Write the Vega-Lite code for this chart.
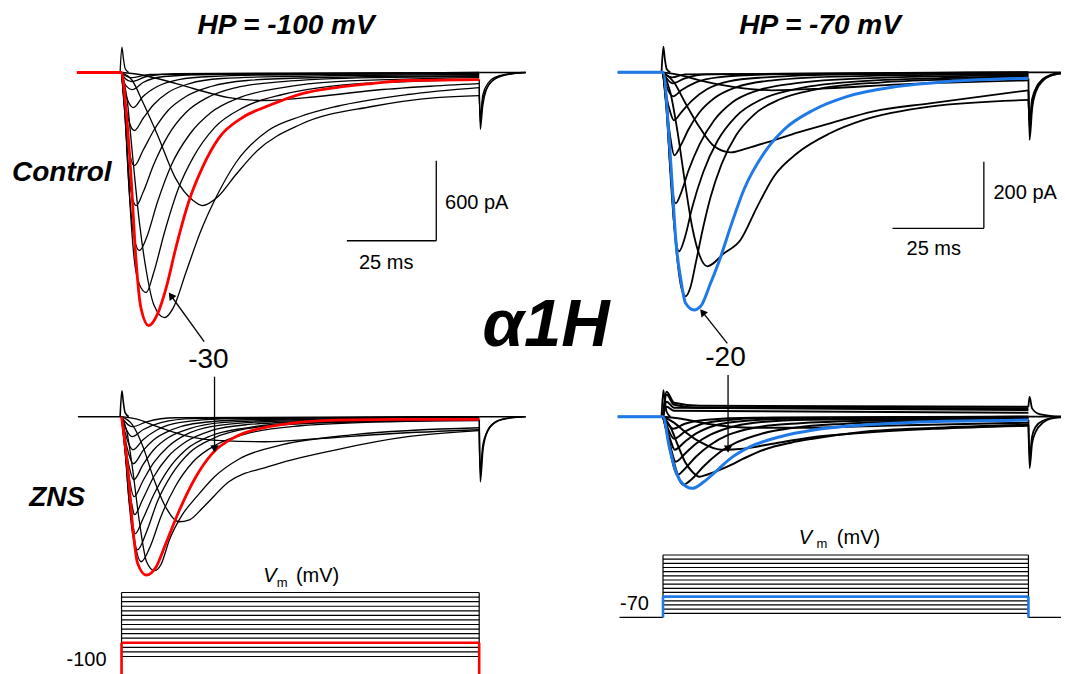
{
"$schema":"https://vega.github.io/schema/vega-lite/v6.json",
"width":1065,"height":674,"padding":0,
"autosize":{"type":"fit","contains":"padding"},
"background":"white",
"config":{"view":{"stroke":null},"font":"Liberation Sans"},
"resolve":{"scale":{"x":"independent","y":"independent"}},
"layer":[
{
"encoding":{"x":{"field":"t","type":"quantitative","scale":{"domain":[-33.983,262.674],"nice":false,"zero":false},"axis":null},
"y":{"field":"I","type":"quantitative","scale":{"domain":[-4511.25,543.75],"nice":false,"zero":false},"axis":null}},
"layer":[
{"data":{"values":[
{"v":-60,"t":0,"I":0},{"v":-60,"t":5,"I":-15},{"v":-60,"t":10,"I":-45},{"v":-60,"t":20,"I":-120},{"v":-60,"t":30,"I":-188},{"v":-60,"t":40,"I":-210},{"v":-60,"t":55,"I":-180},{"v":-60,"t":70,"I":-135},{"v":-60,"t":85,"I":-105},{"v":-60,"t":100,"I":-83},
{"v":-50,"t":0,"I":0},{"v":-50,"t":3,"I":-60},{"v":-50,"t":6,"I":-225},{"v":-50,"t":10,"I":-465},{"v":-50,"t":15,"I":-788},{"v":-50,"t":20,"I":-960},{"v":-50,"t":22.6,"I":-998},{"v":-50,"t":27,"I":-930},{"v":-50,"t":32,"I":-765},{"v":-50,"t":38,"I":-585},{"v":-50,"t":50,"I":-390},{"v":-50,"t":70,"I":-255},{"v":-50,"t":88,"I":-188},{"v":-50,"t":100,"I":-173},
{"v":-40,"t":0,"I":0},{"v":-40,"t":1.5,"I":-188},{"v":-40,"t":3,"I":-600},{"v":-40,"t":5,"I":-1125},{"v":-40,"t":7,"I":-1500},{"v":-40,"t":9,"I":-1740},{"v":-40,"t":12,"I":-1838},{"v":-40,"t":14.5,"I":-1763},{"v":-40,"t":18,"I":-1500},{"v":-40,"t":22,"I":-1200},{"v":-40,"t":26.4,"I":-938},{"v":-40,"t":32,"I":-675},{"v":-40,"t":41,"I":-435},{"v":-40,"t":50,"I":-330},{"v":-40,"t":60,"I":-255},{"v":-40,"t":80,"I":-165},{"v":-40,"t":100,"I":-113},
{"v":-20,"t":0,"I":0},{"v":-20,"t":1,"I":-300},{"v":-20,"t":2,"I":-825},{"v":-20,"t":3.5,"I":-1388},{"v":-20,"t":5,"I":-1590},{"v":-20,"t":6.9,"I":-1650},{"v":-20,"t":9,"I":-1500},{"v":-20,"t":12,"I":-1200},{"v":-20,"t":16,"I":-863},{"v":-20,"t":20,"I":-638},{"v":-20,"t":26,"I":-413},{"v":-20,"t":34,"I":-263},{"v":-20,"t":45,"I":-165},{"v":-20,"t":60,"I":-98},{"v":-20,"t":80,"I":-68},{"v":-20,"t":100,"I":-53},
{"v":-10,"t":0,"I":0},{"v":-10,"t":1,"I":-338},{"v":-10,"t":2,"I":-825},{"v":-10,"t":3.5,"I":-1238},{"v":-10,"t":5,"I":-1335},{"v":-10,"t":7,"I":-1238},{"v":-10,"t":10,"I":-975},{"v":-10,"t":14,"I":-690},{"v":-10,"t":19,"I":-465},{"v":-10,"t":25,"I":-300},{"v":-10,"t":33,"I":-188},{"v":-10,"t":45,"I":-113},{"v":-10,"t":60,"I":-68},{"v":-10,"t":100,"I":-38},
{"v":0,"t":0,"I":0},{"v":0,"t":1,"I":-338},{"v":0,"t":2,"I":-750},{"v":0,"t":3,"I":-938},{"v":0,"t":4.1,"I":-998},{"v":0,"t":6,"I":-900},{"v":0,"t":9,"I":-690},{"v":0,"t":13,"I":-473},{"v":0,"t":18,"I":-300},{"v":0,"t":24,"I":-188},{"v":0,"t":32,"I":-113},{"v":0,"t":45,"I":-68},{"v":0,"t":70,"I":-38},{"v":0,"t":100,"I":-30},
{"v":10,"t":0,"I":0},{"v":10,"t":1,"I":-300},{"v":10,"t":2,"I":-563},{"v":10,"t":3.6,"I":-698},{"v":10,"t":6,"I":-585},{"v":10,"t":9,"I":-435},{"v":10,"t":13,"I":-285},{"v":10,"t":18,"I":-180},{"v":10,"t":25,"I":-105},{"v":10,"t":35,"I":-60},{"v":10,"t":55,"I":-38},{"v":10,"t":100,"I":-23},
{"v":20,"t":0,"I":0},{"v":20,"t":1,"I":-225},{"v":20,"t":2,"I":-360},{"v":20,"t":3.6,"I":-435},{"v":20,"t":6,"I":-345},{"v":20,"t":9,"I":-240},{"v":20,"t":13,"I":-150},{"v":20,"t":19,"I":-83},{"v":20,"t":28,"I":-45},{"v":20,"t":45,"I":-30},{"v":20,"t":100,"I":-15},
{"v":30,"t":0,"I":0},{"v":30,"t":1,"I":-150},{"v":30,"t":2,"I":-225},{"v":30,"t":3.3,"I":-263},{"v":30,"t":6,"I":-180},{"v":30,"t":10,"I":-105},{"v":30,"t":16,"I":-53},{"v":30,"t":25,"I":-30},{"v":30,"t":50,"I":-15},{"v":30,"t":100,"I":-8},
{"v":40,"t":0,"I":0},{"v":40,"t":1,"I":-90},{"v":40,"t":3,"I":-128},{"v":40,"t":6,"I":-75},{"v":40,"t":12,"I":-30},{"v":40,"t":25,"I":-15},{"v":40,"t":100,"I":-8},
{"v":50,"t":0,"I":0},{"v":50,"t":1,"I":-45},{"v":50,"t":2.8,"I":-68},{"v":50,"t":7,"I":-30},{"v":50,"t":15,"I":-8},{"v":50,"t":100,"I":0},
{"v":60,"t":0,"I":0},{"v":60,"t":1,"I":-23},{"v":60,"t":2.5,"I":-38},{"v":60,"t":8,"I":-15},{"v":60,"t":100,"I":0}
]},"mark":{"type":"line","interpolate":"monotone","stroke":"black","strokeWidth":1.3},"encoding":{"detail":{"field":"v","type":"nominal"}}},
{"data":{"values":[
{"g":"cap","t":-0.4,"I":0},{"g":"cap","t":0.1,"I":191},{"g":"cap","t":0.5,"I":110},{"g":"cap","t":1,"I":30},{"g":"cap","t":2,"I":0},
{"g":"t1","t":100,"I":-53},{"g":"t1","t":100.3,"I":-428},{"g":"t1","t":101,"I":-250},{"g":"t1","t":102,"I":-130},{"g":"t1","t":104,"I":-55},{"g":"t1","t":107,"I":-20},{"g":"t1","t":112,"I":0},
{"g":"t2","t":100,"I":-113},{"g":"t2","t":100.3,"I":-380},{"g":"t2","t":101,"I":-200},{"g":"t2","t":102.5,"I":-100},{"g":"t2","t":105,"I":-40},{"g":"t2","t":109,"I":-10},{"g":"t2","t":113,"I":0},
{"g":"t3","t":100,"I":-173},{"g":"t3","t":100.3,"I":-330},{"g":"t3","t":101,"I":-170},{"g":"t3","t":102.5,"I":-80},{"g":"t3","t":105,"I":-30},{"g":"t3","t":109,"I":-8},{"g":"t3","t":113,"I":0},
{"g":"post","t":100,"I":0},{"g":"post","t":113,"I":0}
]},"mark":{"type":"line","interpolate":"monotone","stroke":"black","strokeWidth":1.3},"encoding":{"detail":{"field":"g","type":"nominal"}}},
{"data":{"values":[
{"t":-12.5,"I":0},{"t":0,"I":0},{"t":1.2,"I":-262},{"t":2.6,"I":-758},{"t":4.0,"I":-1388},{"t":5.4,"I":-1763},{"t":7.6,"I":-1898},{"t":10.1,"I":-1808},{"t":12.5,"I":-1613},{"t":15.2,"I":-1313},{"t":18.9,"I":-960},{"t":22.6,"I":-713},{"t":27.3,"I":-488},{"t":33.8,"I":-338},{"t":41.2,"I":-248},{"t":50.5,"I":-158},{"t":60,"I":-113},{"t":70,"I":-83},{"t":80,"I":-60},{"t":100,"I":-53}
]},"mark":{"type":"line","interpolate":"monotone","stroke":"#ff0000","strokeWidth":2.8},"encoding":{}},
{"data":{"values":[
{"t":63,"I":-1262,"t2":88,"I2":-1262},{"t":88,"I":-1262,"t2":88,"I2":-662},{"t":23.1,"I":-2019,"t2":14.0,"I2":-1680}
]},"mark":{"type":"rule","stroke":"black","strokeWidth":1.3},"encoding":{"x2":{"field":"t2"},"y2":{"field":"I2"}}},
{"data":{"values":[{"t":14.0,"I":-1680}]},"mark":{"type":"point","shape":"triangle","angle":324,"filled":true,"color":"black","size":70,"opacity":1},"encoding":{}},
{"data":{"values":[{"s":"600 pA","t":99.3,"I":-981},{"s":"25 ms","t":74,"I":-1425}]},"mark":{"type":"text","font":"Liberation Sans","fontSize":20,"align":"center","baseline":"middle","color":"black"},"encoding":{"text":{"field":"s"}}},
{"data":{"values":[{"s":"HP = -100 mV","t":46,"I":350},{"s":"Control","t":-16.7,"I":-750}]},"mark":{"type":"text","font":"Liberation Sans","fontSize":28,"fontWeight":"bold","fontStyle":"italic","align":"center","baseline":"middle","color":"black"},"encoding":{"text":{"field":"s"}}},
{"data":{"values":[{"s":"α1H","t":118.7,"I":-1900}]},"mark":{"type":"text","font":"Liberation Sans","fontSize":67,"fontWeight":"bold","fontStyle":"italic","align":"center","baseline":"middle","color":"black"},"encoding":{"text":{"field":"s"}}},
{"data":{"values":[{"s":"-30","t":24.3,"I":-2156}]},"mark":{"type":"text","font":"Liberation Sans","fontSize":28,"align":"center","baseline":"middle","color":"black"},"encoding":{"text":{"field":"s"}}}
]},
{
"encoding":{"x":{"field":"t","type":"quantitative","scale":{"domain":[-33.983,262.674],"nice":false,"zero":false},"axis":null},
"y":{"field":"I","type":"quantitative","scale":{"domain":[-1929.75,3125.25],"nice":false,"zero":false},"axis":null}},
"layer":[
{"data":{"values":[
{"v":-60,"t":0,"I":0},{"v":-60,"t":5,"I":-23},{"v":-60,"t":10,"I":-75},{"v":-60,"t":18,"I":-143},{"v":-60,"t":28,"I":-180},{"v":-60,"t":40,"I":-188},{"v":-60,"t":55,"I":-165},{"v":-60,"t":75,"I":-128},{"v":-60,"t":100,"I":-98},
{"v":-50,"t":0,"I":0},{"v":-50,"t":3,"I":-60},{"v":-50,"t":6,"I":-225},{"v":-50,"t":9,"I":-465},{"v":-50,"t":12,"I":-660},{"v":-50,"t":16,"I":-788},{"v":-50,"t":19,"I":-773},{"v":-50,"t":23,"I":-675},{"v":-50,"t":30,"I":-488},{"v":-50,"t":41,"I":-375},{"v":-50,"t":60,"I":-248},{"v":-50,"t":80,"I":-150},{"v":-50,"t":100,"I":-105},
{"v":-40,"t":0,"I":0},{"v":-40,"t":1.5,"I":-113},{"v":-40,"t":3,"I":-375},{"v":-40,"t":5,"I":-788},{"v":-40,"t":7,"I":-1088},{"v":-40,"t":9.2,"I":-1155},{"v":-40,"t":11,"I":-1110},{"v":-40,"t":13.4,"I":-923},{"v":-40,"t":17,"I":-735},{"v":-40,"t":21,"I":-600},{"v":-40,"t":26,"I":-450},{"v":-40,"t":33,"I":-315},{"v":-40,"t":45,"I":-210},{"v":-40,"t":65,"I":-135},{"v":-40,"t":100,"I":-83},
{"v":-20,"t":0,"I":0},{"v":-20,"t":1,"I":-188},{"v":-20,"t":2,"I":-525},{"v":-20,"t":3.5,"I":-900},{"v":-20,"t":5.5,"I":-1088},{"v":-20,"t":8,"I":-975},{"v":-20,"t":11,"I":-750},{"v":-20,"t":15,"I":-525},{"v":-20,"t":20,"I":-338},{"v":-20,"t":27,"I":-203},{"v":-20,"t":36,"I":-120},{"v":-20,"t":50,"I":-68},{"v":-20,"t":75,"I":-38},{"v":-20,"t":100,"I":-30},
{"v":-10,"t":0,"I":0},{"v":-10,"t":1,"I":-225},{"v":-10,"t":2,"I":-600},{"v":-10,"t":3,"I":-863},{"v":-10,"t":4.5,"I":-998},{"v":-10,"t":7,"I":-863},{"v":-10,"t":10,"I":-638},{"v":-10,"t":14,"I":-435},{"v":-10,"t":19,"I":-270},{"v":-10,"t":26,"I":-158},{"v":-10,"t":35,"I":-90},{"v":-10,"t":50,"I":-53},{"v":-10,"t":100,"I":-23},
{"v":0,"t":0,"I":0},{"v":0,"t":1,"I":-263},{"v":0,"t":2,"I":-600},{"v":0,"t":3,"I":-788},{"v":0,"t":3.8,"I":-878},{"v":0,"t":6,"I":-765},{"v":0,"t":9,"I":-585},{"v":0,"t":13,"I":-398},{"v":0,"t":18,"I":-248},{"v":0,"t":25,"I":-143},{"v":0,"t":35,"I":-83},{"v":0,"t":50,"I":-45},{"v":0,"t":100,"I":-23},
{"v":10,"t":0,"I":0},{"v":10,"t":1,"I":-263},{"v":10,"t":2,"I":-525},{"v":10,"t":3,"I":-675},{"v":10,"t":3.6,"I":-735},{"v":10,"t":6,"I":-615},{"v":10,"t":9,"I":-450},{"v":10,"t":13,"I":-300},{"v":10,"t":18,"I":-188},{"v":10,"t":25,"I":-105},{"v":10,"t":35,"I":-60},{"v":10,"t":60,"I":-30},{"v":10,"t":100,"I":-15},
{"v":20,"t":0,"I":0},{"v":20,"t":1,"I":-225},{"v":20,"t":2,"I":-435},{"v":20,"t":3.5,"I":-600},{"v":20,"t":6,"I":-480},{"v":20,"t":9,"I":-345},{"v":20,"t":13,"I":-225},{"v":20,"t":18,"I":-135},{"v":20,"t":25,"I":-75},{"v":20,"t":40,"I":-38},{"v":20,"t":100,"I":-15},
{"v":30,"t":0,"I":0},{"v":30,"t":1,"I":-210},{"v":30,"t":2,"I":-360},{"v":30,"t":3.4,"I":-473},{"v":30,"t":6,"I":-360},{"v":30,"t":9,"I":-248},{"v":30,"t":13,"I":-158},{"v":30,"t":19,"I":-90},{"v":30,"t":28,"I":-45},{"v":30,"t":50,"I":-23},{"v":30,"t":100,"I":-8},
{"v":40,"t":0,"I":0},{"v":40,"t":1,"I":-165},{"v":40,"t":2,"I":-278},{"v":40,"t":3.3,"I":-353},{"v":40,"t":6,"I":-255},{"v":40,"t":9,"I":-173},{"v":40,"t":14,"I":-98},{"v":40,"t":20,"I":-53},{"v":40,"t":35,"I":-23},{"v":40,"t":100,"I":-8},
{"v":50,"t":0,"I":0},{"v":50,"t":1,"I":-120},{"v":50,"t":2,"I":-203},{"v":50,"t":3.2,"I":-248},{"v":50,"t":6,"I":-173},{"v":50,"t":10,"I":-98},{"v":50,"t":16,"I":-45},{"v":50,"t":30,"I":-15},{"v":50,"t":100,"I":0},
{"v":60,"t":0,"I":0},{"v":60,"t":1,"I":-75},{"v":60,"t":3,"I":-150},{"v":60,"t":6,"I":-98},{"v":60,"t":11,"I":-45},{"v":60,"t":20,"I":-15},{"v":60,"t":100,"I":0},
{"v":70,"t":0,"I":0},{"v":70,"t":1,"I":-38},{"v":70,"t":3,"I":-75},{"v":70,"t":7,"I":-38},{"v":70,"t":15,"I":-8},{"v":70,"t":100,"I":0}
]},"mark":{"type":"line","interpolate":"monotone","stroke":"black","strokeWidth":1.3},"encoding":{"detail":{"field":"v","type":"nominal"}}},
{"data":{"values":[
{"g":"base","t":-12.2,"I":0},{"g":"base","t":0,"I":0},
{"g":"cap","t":-0.4,"I":0},{"g":"cap","t":0.1,"I":195},{"g":"cap","t":0.5,"I":110},{"g":"cap","t":1,"I":30},{"g":"cap","t":2,"I":0},
{"g":"t1","t":100,"I":-23},{"g":"t1","t":100.3,"I":-488},{"g":"t1","t":101,"I":-260},{"g":"t1","t":102,"I":-130},{"g":"t1","t":104,"I":-50},{"g":"t1","t":107,"I":-15},{"g":"t1","t":112,"I":0},
{"g":"t2","t":100,"I":-98},{"g":"t2","t":100.3,"I":-420},{"g":"t2","t":101,"I":-220},{"g":"t2","t":102.5,"I":-100},{"g":"t2","t":105,"I":-35},{"g":"t2","t":109,"I":-8},{"g":"t2","t":113,"I":0},
{"g":"post","t":100,"I":0},{"g":"post","t":113,"I":0}
]},"mark":{"type":"line","interpolate":"monotone","stroke":"black","strokeWidth":1.6},"encoding":{"detail":{"field":"g","type":"nominal"}}},
{"data":{"values":[
{"t":0,"I":0},{"t":1.8,"I":-400},{"t":3.2,"I":-850},{"t":4.5,"I":-1100},{"t":6.9,"I":-1188},{"t":9.7,"I":-1125},{"t":12.4,"I":-950},{"t":16.2,"I":-700},{"t":20.8,"I":-450},{"t":25.4,"I":-275},{"t":31.9,"I":-150},{"t":41.2,"I":-75},{"t":60,"I":-25},{"t":80,"I":-20},{"t":100,"I":-20}
]},"mark":{"type":"line","interpolate":"monotone","stroke":"#ff0000","strokeWidth":2.8},"encoding":{}},
{"data":{"values":[{"t":26,"I":300,"t2":26,"I2":-242}]},"mark":{"type":"rule","stroke":"black","strokeWidth":1.3},"encoding":{"x2":{"field":"t2"},"y2":{"field":"I2"}}},
{"data":{"values":[{"t":26,"I":-242}]},"mark":{"type":"point","shape":"triangle-down","filled":true,"color":"black","size":70,"opacity":1},"encoding":{}},
{"data":{"values":[{"s":"ZNS","t":-18,"I":-612}]},"mark":{"type":"text","font":"Liberation Sans","fontSize":28,"fontWeight":"bold","fontStyle":"italic","align":"center","baseline":"middle","color":"black"},"encoding":{"text":{"field":"s"}}}
]},
{
"encoding":{"x":{"field":"t","type":"quantitative","scale":{"domain":[-181.43,108.91],"nice":false,"zero":false},"axis":null},
"y":{"field":"I","type":"quantitative","scale":{"domain":[-1805.1,216.9],"nice":false,"zero":false},"axis":null}},
"layer":[
{"data":{"values":[
{"v":-50,"t":0,"I":0},{"v":-50,"t":5,"I":-9},{"v":-50,"t":10,"I":-24},{"v":-50,"t":20,"I":-45},{"v":-50,"t":30,"I":-54},{"v":-50,"t":45,"I":-48},{"v":-50,"t":65,"I":-36},{"v":-50,"t":100,"I":-24},
{"v":-40,"t":0,"I":0},{"v":-40,"t":3,"I":-30},{"v":-40,"t":6,"I":-90},{"v":-40,"t":10,"I":-165},{"v":-40,"t":14,"I":-222},{"v":-40,"t":18.5,"I":-240},{"v":-40,"t":23,"I":-228},{"v":-40,"t":29.4,"I":-207},{"v":-40,"t":37,"I":-180},{"v":-40,"t":45.7,"I":-153},{"v":-40,"t":57.6,"I":-117},{"v":-40,"t":73,"I":-93},{"v":-40,"t":100,"I":-54},
{"v":-30,"t":0,"I":0},{"v":-30,"t":2,"I":-60},{"v":-30,"t":4,"I":-180},{"v":-30,"t":6,"I":-330},{"v":-30,"t":8,"I":-465},{"v":-30,"t":10,"I":-549},{"v":-30,"t":12.1,"I":-582},{"v":-30,"t":16.7,"I":-543},{"v":-30,"t":21.2,"I":-503},{"v":-30,"t":25.8,"I":-403},{"v":-30,"t":30.3,"I":-313},{"v":-30,"t":36.7,"I":-243},{"v":-30,"t":45.7,"I":-183},{"v":-30,"t":54.9,"I":-143},{"v":-30,"t":73,"I":-103},{"v":-30,"t":100,"I":-83},
{"v":-10,"t":0,"I":0},{"v":-10,"t":1,"I":-90},{"v":-10,"t":2,"I":-270},{"v":-10,"t":3,"I":-450},{"v":-10,"t":4,"I":-570},{"v":-10,"t":5,"I":-645},{"v":-10,"t":6.2,"I":-672},{"v":-10,"t":7.5,"I":-645},{"v":-10,"t":9,"I":-570},{"v":-10,"t":11,"I":-465},{"v":-10,"t":13,"I":-375},{"v":-10,"t":16,"I":-276},{"v":-10,"t":20,"I":-189},{"v":-10,"t":25,"I":-126},{"v":-10,"t":32,"I":-81},{"v":-10,"t":42,"I":-51},{"v":-10,"t":60,"I":-30},{"v":-10,"t":80,"I":-21},{"v":-10,"t":100,"I":-15},
{"v":0,"t":0,"I":0},{"v":0,"t":1,"I":-105},{"v":0,"t":2,"I":-300},{"v":0,"t":3,"I":-450},{"v":0,"t":4.4,"I":-537},{"v":0,"t":6,"I":-495},{"v":0,"t":8,"I":-405},{"v":0,"t":11,"I":-300},{"v":0,"t":15,"I":-204},{"v":0,"t":20,"I":-132},{"v":0,"t":27,"I":-81},{"v":0,"t":36,"I":-51},{"v":0,"t":50,"I":-30},{"v":0,"t":75,"I":-18},{"v":0,"t":100,"I":-12},
{"v":10,"t":0,"I":0},{"v":10,"t":1,"I":-120},{"v":10,"t":2,"I":-285},{"v":10,"t":3.5,"I":-393},{"v":10,"t":5,"I":-360},{"v":10,"t":7,"I":-294},{"v":10,"t":10,"I":-216},{"v":10,"t":14,"I":-144},{"v":10,"t":19,"I":-90},{"v":10,"t":26,"I":-54},{"v":10,"t":36,"I":-33},{"v":10,"t":55,"I":-18},{"v":10,"t":100,"I":-9},
{"v":20,"t":0,"I":0},{"v":20,"t":1,"I":-105},{"v":20,"t":2,"I":-195},{"v":20,"t":3.1,"I":-249},{"v":20,"t":5,"I":-216},{"v":20,"t":7,"I":-171},{"v":20,"t":10,"I":-120},{"v":20,"t":14,"I":-78},{"v":20,"t":20,"I":-45},{"v":20,"t":30,"I":-24},{"v":20,"t":50,"I":-12},{"v":20,"t":100,"I":-6},
{"v":30,"t":0,"I":0},{"v":30,"t":1,"I":-75},{"v":30,"t":2,"I":-120},{"v":30,"t":3,"I":-144},{"v":30,"t":5,"I":-120},{"v":30,"t":8,"I":-84},{"v":30,"t":12,"I":-51},{"v":30,"t":18,"I":-27},{"v":30,"t":28,"I":-15},{"v":30,"t":50,"I":-6},{"v":30,"t":100,"I":-3},
{"v":40,"t":0,"I":0},{"v":40,"t":1,"I":-42},{"v":40,"t":2.8,"I":-72},{"v":40,"t":5,"I":-54},{"v":40,"t":9,"I":-30},{"v":40,"t":15,"I":-15},{"v":40,"t":30,"I":-6},{"v":40,"t":100,"I":0},
{"v":50,"t":0,"I":0},{"v":50,"t":1,"I":-18},{"v":50,"t":2.6,"I":-33},{"v":50,"t":6,"I":-18},{"v":50,"t":12,"I":-6},{"v":50,"t":100,"I":0},
{"v":60,"t":0,"I":0},{"v":60,"t":1,"I":-9},{"v":60,"t":2.5,"I":-15},{"v":60,"t":6,"I":-6},{"v":60,"t":100,"I":0}
]},"mark":{"type":"line","interpolate":"monotone","stroke":"black","strokeWidth":1.8},"encoding":{"detail":{"field":"v","type":"nominal"}}},
{"data":{"values":[
{"g":"base","t":-12.4,"I":0},{"g":"base","t":0,"I":0},
{"g":"cap","t":-0.4,"I":0},{"g":"cap","t":0.1,"I":77},{"g":"cap","t":0.5,"I":40},{"g":"cap","t":1,"I":10},{"g":"cap","t":2,"I":0},
{"g":"t1","t":100,"I":-18},{"g":"t1","t":100.3,"I":-203},{"g":"t1","t":101,"I":-110},{"g":"t1","t":102,"I":-60},{"g":"t1","t":104,"I":-25},{"g":"t1","t":106,"I":-10},{"g":"t1","t":108.9,"I":-3},
{"g":"t2","t":100,"I":-54},{"g":"t2","t":100.3,"I":-170},{"g":"t2","t":101,"I":-95},{"g":"t2","t":102,"I":-50},{"g":"t2","t":104,"I":-20},{"g":"t2","t":106,"I":-8},{"g":"t2","t":108.9,"I":-2},
{"g":"t3","t":100,"I":-83},{"g":"t3","t":100.3,"I":-150},{"g":"t3","t":101,"I":-80},{"g":"t3","t":102.5,"I":-40},{"g":"t3","t":105,"I":-15},{"g":"t3","t":108.9,"I":-3},
{"g":"post","t":100,"I":0},{"g":"post","t":108.9,"I":0}
]},"mark":{"type":"line","interpolate":"monotone","stroke":"black","strokeWidth":1.8},"encoding":{"detail":{"field":"g","type":"nominal"}}},
{"data":{"values":[
{"t":-12.4,"I":0},{"t":0,"I":0},{"t":1.7,"I":-203},{"t":2.6,"I":-353},{"t":3.5,"I":-503},{"t":4.9,"I":-623},{"t":6.2,"I":-693},{"t":8.5,"I":-713},{"t":10.3,"I":-702},{"t":13,"I":-633},{"t":15.8,"I":-553},{"t":18.5,"I":-463},{"t":22.1,"I":-353},{"t":27.6,"I":-243},{"t":33,"I":-173},{"t":41.2,"I":-113},{"t":50.3,"I":-73},{"t":63.9,"I":-43},{"t":77.6,"I":-28},{"t":100,"I":-18}
]},"mark":{"type":"line","interpolate":"monotone","stroke":"#1f7ae8","strokeWidth":3},"encoding":{}},
{"data":{"values":[
{"t":62.8,"I":-468,"t2":87.8,"I2":-468},{"t":87.8,"I":-468,"t2":87.8,"I2":-268},{"t":17.6,"I":-813,"t2":11.0,"I2":-722}
]},"mark":{"type":"rule","stroke":"black","strokeWidth":1.3},"encoding":{"x2":{"field":"t2"},"y2":{"field":"I2"}}},
{"data":{"values":[{"t":11.0,"I":-722}]},"mark":{"type":"point","shape":"triangle","angle":321,"filled":true,"color":"black","size":70,"opacity":1},"encoding":{}},
{"data":{"values":[{"s":"200 pA","t":99.1,"I":-363},{"s":"25 ms","t":74.1,"I":-531}]},"mark":{"type":"text","font":"Liberation Sans","fontSize":20,"align":"center","baseline":"middle","color":"black"},"encoding":{"text":{"field":"s"}}},
{"data":{"values":[{"s":"HP = -70 mV","t":43,"I":139.5}]},"mark":{"type":"text","font":"Liberation Sans","fontSize":28,"fontWeight":"bold","fontStyle":"italic","align":"center","baseline":"middle","color":"black"},"encoding":{"text":{"field":"s"}}},
{"data":{"values":[{"s":"-20","t":17.1,"I":-858}]},"mark":{"type":"text","font":"Liberation Sans","fontSize":28,"align":"center","baseline":"middle","color":"black"},"encoding":{"text":{"field":"s"}}}
]},
{
"encoding":{"x":{"field":"t","type":"quantitative","scale":{"domain":[-181.43,108.91],"nice":false,"zero":false},"axis":null},
"y":{"field":"I","type":"quantitative","scale":{"domain":[-771.9,1250.1],"nice":false,"zero":false},"axis":null}},
"layer":[
{"data":{"values":[
{"v":-50,"t":0,"I":0},{"v":-50,"t":5,"I":-6},{"v":-50,"t":12,"I":-21},{"v":-50,"t":25,"I":-33},{"v":-50,"t":40,"I":-33},{"v":-50,"t":60,"I":-27},{"v":-50,"t":100,"I":-18},
{"v":-40,"t":0,"I":0},{"v":-40,"t":3,"I":-18},{"v":-40,"t":6,"I":-45},{"v":-40,"t":10,"I":-75},{"v":-40,"t":16,"I":-99},{"v":-40,"t":22,"I":-96},{"v":-40,"t":30,"I":-81},{"v":-40,"t":40,"I":-63},{"v":-40,"t":55,"I":-48},{"v":-40,"t":75,"I":-36},{"v":-40,"t":100,"I":-27},
{"v":-30,"t":0,"I":0},{"v":-30,"t":2,"I":-30},{"v":-30,"t":4,"I":-84},{"v":-30,"t":6,"I":-135},{"v":-30,"t":8,"I":-165},{"v":-30,"t":10,"I":-180},{"v":-30,"t":12,"I":-174},{"v":-30,"t":17.6,"I":-150},{"v":-30,"t":22,"I":-126},{"v":-30,"t":27.6,"I":-99},{"v":-30,"t":35,"I":-78},{"v":-30,"t":41,"I":-66},{"v":-30,"t":55,"I":-45},{"v":-30,"t":75,"I":-33},{"v":-30,"t":100,"I":-24},
{"v":-10,"t":0,"I":0},{"v":-10,"t":1,"I":-36},{"v":-10,"t":2,"I":-90},{"v":-10,"t":3.5,"I":-156},{"v":-10,"t":5.5,"I":-204},{"v":-10,"t":8,"I":-186},{"v":-10,"t":11,"I":-150},{"v":-10,"t":15,"I":-111},{"v":-10,"t":20,"I":-78},{"v":-10,"t":27,"I":-51},{"v":-10,"t":36,"I":-33},{"v":-10,"t":50,"I":-21},{"v":-10,"t":75,"I":-12},{"v":-10,"t":100,"I":-9},
{"v":0,"t":0,"I":0},{"v":0,"t":1,"I":-45},{"v":0,"t":2,"I":-105},{"v":0,"t":4,"I":-174},{"v":0,"t":6,"I":-156},{"v":0,"t":9,"I":-120},{"v":0,"t":13,"I":-84},{"v":0,"t":18,"I":-54},{"v":0,"t":25,"I":-33},{"v":0,"t":35,"I":-21},{"v":0,"t":55,"I":-12},{"v":0,"t":100,"I":-6},
{"v":10,"t":0,"I":0},{"v":10,"t":1,"I":-45},{"v":10,"t":2,"I":-90},{"v":10,"t":3.5,"I":-135},{"v":10,"t":6,"I":-111},{"v":10,"t":9,"I":-81},{"v":10,"t":13,"I":-54},{"v":10,"t":18,"I":-33},{"v":10,"t":25,"I":-18},{"v":10,"t":40,"I":-9},{"v":10,"t":100,"I":-3},
{"v":20,"t":0,"I":0},{"v":20,"t":1,"I":-36},{"v":20,"t":2,"I":-69},{"v":20,"t":3.2,"I":-99},{"v":20,"t":6,"I":-75},{"v":20,"t":9,"I":-51},{"v":20,"t":14,"I":-27},{"v":20,"t":20,"I":-15},{"v":20,"t":35,"I":-6},{"v":20,"t":100,"I":0},
{"v":30,"t":0,"I":0},{"v":30,"t":1,"I":-27},{"v":30,"t":3,"I":-66},{"v":30,"t":6,"I":-45},{"v":30,"t":10,"I":-24},{"v":30,"t":16,"I":-12},{"v":30,"t":30,"I":-3},{"v":30,"t":100,"I":0},
{"v":40,"t":0,"I":0},{"v":40,"t":1,"I":-18},{"v":40,"t":2.8,"I":-36},{"v":40,"t":6,"I":-21},{"v":40,"t":12,"I":-9},{"v":40,"t":25,"I":-3},{"v":40,"t":100,"I":0},
{"v":50,"t":0,"I":0},{"v":50,"t":1,"I":30},{"v":50,"t":3,"I":18},{"v":50,"t":100,"I":12},
{"v":60,"t":0,"I":0},{"v":60,"t":1,"I":45},{"v":60,"t":3,"I":27},{"v":60,"t":100,"I":20},
{"v":70,"t":0,"I":0},{"v":70,"t":1,"I":75},{"v":70,"t":3,"I":42},{"v":70,"t":10,"I":33},{"v":70,"t":100,"I":30},
{"v":80,"t":0,"I":0},{"v":80,"t":1,"I":66},{"v":80,"t":3,"I":36},{"v":80,"t":10,"I":27},{"v":80,"t":100,"I":25}
]},"mark":{"type":"line","interpolate":"monotone","stroke":"black","strokeWidth":2},"encoding":{"detail":{"field":"v","type":"nominal"}}},
{"data":{"values":[
{"g":"base","t":-12.4,"I":0},{"g":"base","t":0,"I":0},
{"g":"cap","t":-0.4,"I":0},{"g":"cap","t":0.1,"I":80},{"g":"cap","t":0.5,"I":45},{"g":"cap","t":1,"I":15},{"g":"cap","t":2,"I":0},
{"g":"t1","t":100,"I":-10},{"g":"t1","t":100.3,"I":-155},{"g":"t1","t":101,"I":-80},{"g":"t1","t":102,"I":-45},{"g":"t1","t":104,"I":-18},{"g":"t1","t":106,"I":-6},{"g":"t1","t":108.9,"I":-2},
{"g":"t2","t":100,"I":-24},{"g":"t2","t":100.3,"I":-120},{"g":"t2","t":101,"I":-60},{"g":"t2","t":102,"I":-30},{"g":"t2","t":104,"I":-12},{"g":"t2","t":108.9,"I":0},
{"g":"tu","t":100,"I":30},{"g":"tu","t":100.3,"I":60},{"g":"tu","t":101,"I":25},{"g":"tu","t":103,"I":8},{"g":"tu","t":108.9,"I":0},
{"g":"post","t":100,"I":0},{"g":"post","t":108.9,"I":0}
]},"mark":{"type":"line","interpolate":"monotone","stroke":"black","strokeWidth":1.8},"encoding":{"detail":{"field":"g","type":"nominal"}}},
{"data":{"values":[
{"t":-12.4,"I":0},{"t":0,"I":0},{"t":1.7,"I":-90},{"t":3.1,"I":-150},{"t":4.9,"I":-195},{"t":8,"I":-215},{"t":11.2,"I":-195},{"t":14.9,"I":-160},{"t":18.5,"I":-125},{"t":23.9,"I":-90},{"t":32.1,"I":-60},{"t":41.2,"I":-40},{"t":54.9,"I":-25},{"t":73,"I":-15},{"t":100,"I":-10}
]},"mark":{"type":"line","interpolate":"monotone","stroke":"#1f7ae8","strokeWidth":3},"encoding":{}},
{"data":{"values":[{"t":17.8,"I":125,"t2":17.8,"I2":-97}]},"mark":{"type":"rule","stroke":"black","strokeWidth":1.3},"encoding":{"x2":{"field":"t2"},"y2":{"field":"I2"}}},
{"data":{"values":[{"t":17.8,"I":-97}]},"mark":{"type":"point","shape":"triangle-down","filled":true,"color":"black","size":70,"opacity":1},"encoding":{}}
]},
{
"encoding":{"x":{"field":"t","type":"quantitative","scale":{"domain":[-33.983,262.674],"nice":false,"zero":false},"axis":null},
"y":{"field":"v","type":"quantitative","scale":{"domain":[-98.29,1376.5],"nice":false,"zero":false},"axis":null}},
"layer":[
{"data":{"values":[
{"t":0,"t2":100,"v":-60,"v2":-60},{"t":0,"t2":100,"v":-50,"v2":-50},{"t":0,"t2":100,"v":-40,"v2":-40},{"t":0,"t2":100,"v":-20,"v2":-20},{"t":0,"t2":100,"v":-10,"v2":-10},{"t":0,"t2":100,"v":0,"v2":0},{"t":0,"t2":100,"v":10,"v2":10},{"t":0,"t2":100,"v":20,"v2":20},{"t":0,"t2":100,"v":30,"v2":30},{"t":0,"t2":100,"v":40,"v2":40},{"t":0,"t2":100,"v":50,"v2":50},{"t":0,"t2":100,"v":60,"v2":60},{"t":0,"t2":100,"v":70,"v2":70},{"t":0,"t2":100,"v":80,"v2":80},
{"t":0,"t2":0,"v":80,"v2":-100},{"t":100,"t2":100,"v":80,"v2":-100}
]},"mark":{"type":"rule","stroke":"black","strokeWidth":1.2,"clip":true},"encoding":{"x2":{"field":"t2"},"y2":{"field":"v2"}}},
{"data":{"values":[
{"t":0,"t2":100,"v":-30,"v2":-30},{"t":0,"t2":0,"v":-30,"v2":-100},{"t":100,"t2":100,"v":-30,"v2":-100}
]},"mark":{"type":"rule","stroke":"#ff0000","strokeWidth":2.6,"clip":true},"encoding":{"x2":{"field":"t2"},"y2":{"field":"v2"}}},
{"data":{"values":[{"s":"-100","t":-9.8,"v":-67.7},{"s":"(mV)","t":54.8,"v":117.2}]},"mark":{"type":"text","font":"Liberation Sans","fontSize":20,"align":"center","baseline":"middle","color":"black"},"encoding":{"text":{"field":"s"}}},
{"data":{"values":[{"s":"V","t":41.5,"v":117.2}]},"mark":{"type":"text","font":"Liberation Sans","fontSize":20,"fontStyle":"italic","align":"center","baseline":"middle","color":"black"},"encoding":{"text":{"field":"s"}}},
{"data":{"values":[{"s":"m","t":44.9,"v":101.9}]},"mark":{"type":"text","font":"Liberation Sans","fontSize":13,"align":"center","baseline":"middle","color":"black"},"encoding":{"text":{"field":"s"}}}
]},
{
"encoding":{"x":{"field":"t","type":"quantitative","scale":{"domain":[-181.43,108.91],"nice":false,"zero":false},"axis":null},
"y":{"field":"v","type":"quantitative","scale":{"domain":[-205.8,1412.9],"nice":false,"zero":false},"axis":null}},
"layer":[
{"data":{"values":[
{"t":0,"t2":100,"v":-60,"v2":-60},{"t":0,"t2":100,"v":-50,"v2":-50},{"t":0,"t2":100,"v":-40,"v2":-40},{"t":0,"t2":100,"v":-30,"v2":-30},{"t":0,"t2":100,"v":-10,"v2":-10},{"t":0,"t2":100,"v":0,"v2":0},{"t":0,"t2":100,"v":10,"v2":10},{"t":0,"t2":100,"v":20,"v2":20},{"t":0,"t2":100,"v":30,"v2":30},{"t":0,"t2":100,"v":40,"v2":40},{"t":0,"t2":100,"v":50,"v2":50},{"t":0,"t2":100,"v":60,"v2":60},{"t":0,"t2":100,"v":70,"v2":70},{"t":0,"t2":100,"v":80,"v2":80},
{"t":0,"t2":0,"v":80,"v2":-70},{"t":100,"t2":100,"v":80,"v2":-70},
{"t":-11.9,"t2":0,"v":-70,"v2":-70},{"t":100,"t2":108.9,"v":-70,"v2":-70}
]},"mark":{"type":"rule","stroke":"black","strokeWidth":1.2,"clip":true},"encoding":{"x2":{"field":"t2"},"y2":{"field":"v2"}}},
{"data":{"values":[
{"t":0,"t2":100,"v":-20,"v2":-20},{"t":0,"t2":0,"v":-20,"v2":-70},{"t":100,"t2":100,"v":-20,"v2":-70}
]},"mark":{"type":"rule","stroke":"#1f7ae8","strokeWidth":2.6,"clip":true},"encoding":{"x2":{"field":"t2"},"y2":{"field":"v2"}}},
{"data":{"values":[{"s":"-70","t":-7.8,"v":-37.7},{"s":"(mV)","t":53.5,"v":122}]},"mark":{"type":"text","font":"Liberation Sans","fontSize":20,"align":"center","baseline":"middle","color":"black"},"encoding":{"text":{"field":"s"}}},
{"data":{"values":[{"s":"V","t":39,"v":122}]},"mark":{"type":"text","font":"Liberation Sans","fontSize":20,"fontStyle":"italic","align":"center","baseline":"middle","color":"black"},"encoding":{"text":{"field":"s"}}},
{"data":{"values":[{"s":"m","t":43.5,"v":107.6}]},"mark":{"type":"text","font":"Liberation Sans","fontSize":13,"align":"center","baseline":"middle","color":"black"},"encoding":{"text":{"field":"s"}}}
]}
]
}
